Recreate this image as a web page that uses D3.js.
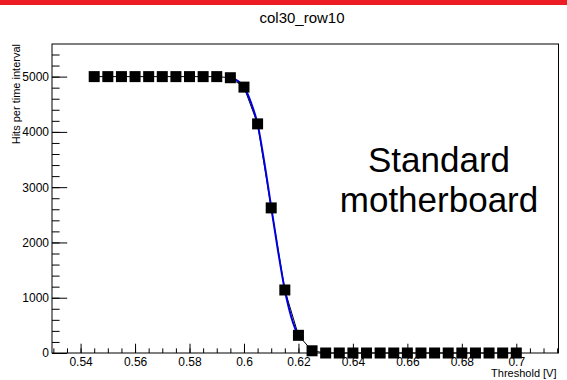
<!DOCTYPE html>
<html>
<head>
<meta charset="utf-8">
<script src="https://cdn.jsdelivr.net/npm/d3@7"></script>
<style>
  body { margin: 0; background: #fff; }
  svg { display: block; font-family: "Liberation Sans", Arial, sans-serif; }
</style>
</head>
<body>
<script>
// measured points (threshold scan)
const thresholds = [0.545, 0.55, 0.555, 0.56, 0.565, 0.57, 0.575, 0.58, 0.585, 0.59,
  0.595, 0.6, 0.605, 0.61, 0.615, 0.62, 0.625, 0.63, 0.635, 0.64, 0.645, 0.65,
  0.655, 0.66, 0.665, 0.67, 0.675, 0.68, 0.685, 0.69, 0.695, 0.7]
const hits = [5000, 5000, 5000, 5000, 5000, 5000, 5000, 5000, 5000, 5000,
  4980, 4810, 4145, 2625, 1140, 320, 40, 0, 0, 0, 0, 0,
  0, 0, 0, 0, 0, 0, 0, 0, 0, 0]

// fitted curve
const fitX = [0.595, 0.5975, 0.6, 0.6025, 0.605, 0.6075, 0.61, 0.6125, 0.615, 0.6175, 0.62]
const fitY = [4985, 4930, 4810, 4540, 4140, 3440, 2640, 1850, 1140, 630, 300]

const xTicks = [0.54, 0.56, 0.58, 0.6, 0.62, 0.64, 0.66, 0.68, 0.7]
const xTickLabels = ["0.54", "0.56", "0.58", "0.6", "0.62", "0.64", "0.66", "0.68", "0.7"]
const yTicks = [0, 1000, 2000, 3000, 4000, 5000]
const yTickLabels = ["0", "1000", "2000", "3000", "4000", "5000"]

const title = "col30_row10"
const xTitle = "Threshold [V]"
const yTitle = "Hits per time interval"
const note = ["Standard", "motherboard"]

const width = 567, height = 380
const frame = { left: 52, right: 558.5, top: 44, bottom: 353 }

const svg = d3.select("body").append("svg")
  .attr("width", width)
  .attr("height", height)

svg.append("rect")
  .attr("x", 0).attr("y", 0)
  .attr("width", width).attr("height", 5)
  .attr("fill", "#ec1c24")

const x = d3.scaleLinear().domain([0.5295, 0.7155]).range([frame.left, frame.right])
const y = d3.scaleLinear().domain([0, 5590]).range([frame.bottom, frame.top])

const fw = frame.right - frame.left
const fh = frame.bottom - frame.top
const xMajor = 0.03 * fh, yMajor = 0.03 * fw

// minor ticks
const xMinor = d3.range(0.53, 0.7155, 0.005).filter(v => v >= 0.5295)
const yMinor = d3.range(0, 5590, 200)

svg.append("g")
  .attr("transform", `translate(0,${frame.bottom})`)
  .call(d3.axisBottom(x).tickValues(xMinor).tickFormat("").tickSize(-xMajor / 2))
  .call(g => g.select(".domain").remove())

svg.append("g")
  .attr("transform", `translate(${frame.left},0)`)
  .call(d3.axisLeft(y).tickValues(yMinor).tickFormat("").tickSize(-yMajor / 2))
  .call(g => g.select(".domain").remove())

svg.append("g")
  .attr("transform", `translate(0,${frame.bottom})`)
  .call(d3.axisBottom(x).tickValues(xTicks)
    .tickFormat((d, i) => xTickLabels[i]).tickSize(-xMajor).tickPadding(4))
  .call(g => g.select(".domain").remove())
  .call(g => g.selectAll("text").attr("font-size", 12).attr("fill", "#000")
    .attr("font-family", "Liberation Sans, Arial, sans-serif"))

svg.append("g")
  .attr("transform", `translate(${frame.left},0)`)
  .call(d3.axisLeft(y).tickValues(yTicks)
    .tickFormat((d, i) => yTickLabels[i]).tickSize(-yMajor).tickPadding(3))
  .call(g => g.select(".domain").remove())
  .call(g => g.selectAll("text").attr("font-size", 12).attr("fill", "#000")
    .attr("font-family", "Liberation Sans, Arial, sans-serif"))

svg.selectAll(".tick line").attr("stroke", "#000")

svg.append("rect")
  .attr("x", frame.left).attr("y", frame.top)
  .attr("width", fw).attr("height", fh)
  .attr("fill", "none").attr("stroke", "#000").attr("stroke-width", 1)

const pts = thresholds.map((t, i) => [t, hits[i]])

const line = d3.line().x(d => x(d[0])).y(d => y(d[1]))
svg.append("path")
  .datum(pts)
  .attr("d", line)
  .attr("fill", "none")
  .attr("stroke", "#000")
  .attr("stroke-width", 1)

const fitLine = d3.line().x(d => x(d[0])).y(d => y(d[1])).curve(d3.curveMonotoneX)
svg.append("path")
  .datum(fitX.map((v, i) => [v, fitY[i]]))
  .attr("d", fitLine)
  .attr("fill", "none")
  .attr("stroke", "#0000dd")
  .attr("stroke-width", 2)

const ms = 11
svg.append("g").selectAll("rect")
  .data(pts)
  .join("rect")
  .attr("x", d => x(d[0]) - ms / 2)
  .attr("y", d => y(d[1]) - ms / 2)
  .attr("width", ms).attr("height", ms)
  .attr("fill", "#000")

svg.append("text")
  .attr("x", 302).attr("y", 23)
  .attr("text-anchor", "middle")
  .attr("font-size", 15)
  .text(title)

svg.append("text")
  .attr("x", frame.right - 2).attr("y", 377)
  .attr("text-anchor", "end")
  .attr("font-size", 11)
  .text(xTitle)

svg.append("text")
  .attr("transform", `translate(20,${frame.top}) rotate(-90)`)
  .attr("text-anchor", "end")
  .attr("font-size", 11)
  .text(yTitle)

svg.append("g").selectAll("text")
  .data(note)
  .join("text")
  .attr("x", 439)
  .attr("y", (d, i) => 172 + i * 40)
  .attr("text-anchor", "middle")
  .attr("font-size", 35)
  .text(d => d)
</script>
</body>
</html>
